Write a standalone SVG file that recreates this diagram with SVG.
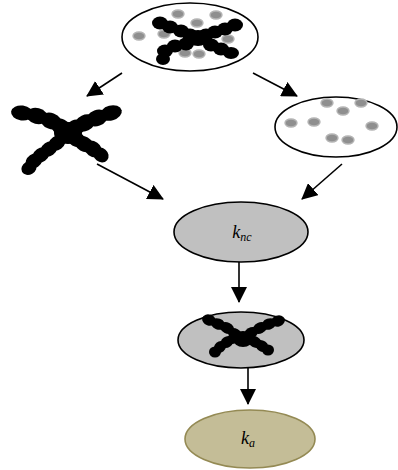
<svg xmlns="http://www.w3.org/2000/svg" width="398" height="470" viewBox="0 0 398 470">
  <style>
    .node { stroke: #000; stroke-width: 1.6; }
    .white { fill: #fff; }
    .grey { fill: #c0c0c0; }
    .tan { fill: #c4bd97; stroke: #948a54; stroke-width: 1.6; }
    .dot { fill: #8f8f8f; stroke: #b4b4b4; stroke-width: 1.4; }
    .bead { fill: #000; }
    .edge { stroke: #000; stroke-width: 1.6; fill: none; marker-end: url(#head); }
    .label { font-family: "Liberation Serif", "Times New Roman", serif; font-style: italic; fill: #000; }
  </style>
  <defs>
    <marker id="head" viewBox="0 0 16 16" refX="15" refY="8" markerWidth="16" markerHeight="16" markerUnits="userSpaceOnUse" orient="auto">
      <path d="M0,0 L16,8 L0,16 Z" fill="#000"/>
    </marker>
  </defs>

  <!-- connectors -->
  <g id="connectors">
    <line class="edge" x1="122" y1="73" x2="87" y2="96"/>
    <line class="edge" x1="253" y1="73" x2="297" y2="96"/>
    <line class="edge" x1="97" y1="164" x2="163" y2="199"/>
    <line class="edge" x1="342" y1="164" x2="302" y2="199"/>
    <line class="edge" x1="239" y1="262" x2="239" y2="302"/>
    <line class="edge" x1="248" y1="368" x2="248" y2="404"/>
  </g>

  <!-- mixture: polymer with free particles -->
  <g id="mixture">
    <ellipse class="node white" cx="190" cy="37" rx="68" ry="34"/>
    <g>
      <ellipse class="dot" cx="178" cy="14" rx="6" ry="4"/>
      <ellipse class="dot" cx="216" cy="15" rx="6" ry="4"/>
      <ellipse class="dot" cx="197" cy="23" rx="6" ry="4"/>
      <ellipse class="dot" cx="139" cy="36" rx="6" ry="4"/>
      <ellipse class="dot" cx="164" cy="34" rx="6" ry="4"/>
      <ellipse class="dot" cx="228" cy="39" rx="6" ry="4"/>
      <ellipse class="dot" cx="185" cy="53" rx="6" ry="4"/>
      <ellipse class="dot" cx="199" cy="54" rx="6" ry="4"/>
    </g>
    <g>
      <ellipse class="bead" cx="160" cy="23" rx="8" ry="6.5"/>
      <ellipse class="bead" cx="170" cy="27" rx="8" ry="6.5"/>
      <ellipse class="bead" cx="181" cy="31" rx="8" ry="6.5"/>
      <ellipse class="bead" cx="190" cy="35" rx="8" ry="6.5"/>
      <ellipse class="bead" cx="235" cy="25" rx="8" ry="6.5"/>
      <ellipse class="bead" cx="225" cy="29" rx="8" ry="6.5"/>
      <ellipse class="bead" cx="215" cy="32" rx="8" ry="6.5"/>
      <ellipse class="bead" cx="206" cy="35" rx="8" ry="6.5"/>
      <ellipse class="bead" cx="198" cy="38" rx="10" ry="8"/>
      <ellipse class="bead" cx="163" cy="59" rx="7" ry="6"/>
      <ellipse class="bead" cx="165" cy="51" rx="8" ry="6.5"/>
      <ellipse class="bead" cx="175" cy="46" rx="8" ry="6.5"/>
      <ellipse class="bead" cx="186" cy="44" rx="8" ry="6.5"/>
      <ellipse class="bead" cx="231" cy="53" rx="8" ry="6"/>
      <ellipse class="bead" cx="221" cy="49" rx="8" ry="6.5"/>
      <ellipse class="bead" cx="211" cy="45" rx="8" ry="6.5"/>
    </g>
  </g>

  <!-- free polymer -->
  <g id="polymer">
    <ellipse class="bead" cx="22" cy="113" rx="11" ry="7.5" transform="rotate(8 22 113)"/>
    <ellipse class="bead" cx="37" cy="116" rx="11" ry="8" transform="rotate(14 37 116)"/>
    <ellipse class="bead" cx="51" cy="121" rx="11" ry="8" transform="rotate(20 51 121)"/>
    <ellipse class="bead" cx="61" cy="127" rx="10" ry="8" transform="rotate(25 61 127)"/>
    <ellipse class="bead" cx="111" cy="113" rx="11" ry="7.5" transform="rotate(-15 111 113)"/>
    <ellipse class="bead" cx="97" cy="118" rx="11" ry="8" transform="rotate(-20 97 118)"/>
    <ellipse class="bead" cx="85" cy="123" rx="11" ry="8" transform="rotate(-25 85 123)"/>
    <ellipse class="bead" cx="75" cy="128" rx="10" ry="8" transform="rotate(-25 75 128)"/>
    <ellipse class="bead" cx="68" cy="133" rx="14" ry="11"/>
    <ellipse class="bead" cx="29" cy="168" rx="8" ry="6.5" transform="rotate(-30 29 168)"/>
    <ellipse class="bead" cx="34" cy="161" rx="9" ry="7" transform="rotate(-35 34 161)"/>
    <ellipse class="bead" cx="41" cy="155" rx="9" ry="7" transform="rotate(-35 41 155)"/>
    <ellipse class="bead" cx="49" cy="149" rx="9" ry="7" transform="rotate(-35 49 149)"/>
    <ellipse class="bead" cx="57" cy="143" rx="9" ry="7" transform="rotate(-35 57 143)"/>
    <ellipse class="bead" cx="101" cy="155" rx="8" ry="7" transform="rotate(40 101 155)"/>
    <ellipse class="bead" cx="93" cy="149" rx="10" ry="7.5" transform="rotate(35 93 149)"/>
    <ellipse class="bead" cx="84" cy="144" rx="10" ry="7.5" transform="rotate(30 84 144)"/>
    <ellipse class="bead" cx="76" cy="139" rx="10" ry="7.5" transform="rotate(30 76 139)"/>
  </g>

  <!-- free particles -->
  <g id="particles">
    <ellipse class="node white" cx="336" cy="127" rx="61" ry="30"/>
    <ellipse class="dot" cx="327" cy="103" rx="6" ry="4"/>
    <ellipse class="dot" cx="361" cy="103" rx="6" ry="4"/>
    <ellipse class="dot" cx="343" cy="111" rx="6" ry="4"/>
    <ellipse class="dot" cx="291" cy="123" rx="6" ry="4"/>
    <ellipse class="dot" cx="314" cy="122" rx="6" ry="4"/>
    <ellipse class="dot" cx="372" cy="126" rx="6" ry="4"/>
    <ellipse class="dot" cx="332" cy="138" rx="6" ry="4"/>
    <ellipse class="dot" cx="348" cy="140" rx="6" ry="4"/>
  </g>

  <!-- k_nc step -->
  <g id="knc">
    <ellipse class="node grey" cx="241" cy="232" rx="67" ry="30"/>
    <text class="label" x="242" y="238" text-anchor="middle" font-size="18">k<tspan font-size="12" dy="3">nc</tspan></text>
  </g>

  <!-- collapsed polymer -->
  <g id="collapsed">
    <ellipse class="node grey" cx="241" cy="340" rx="63" ry="28"/>
    <ellipse class="bead" cx="209" cy="320" rx="7" ry="5.5" transform="rotate(20 209 320)"/>
    <ellipse class="bead" cx="218" cy="324" rx="7.5" ry="5.5" transform="rotate(20 218 324)"/>
    <ellipse class="bead" cx="227" cy="328" rx="7.5" ry="5.5" transform="rotate(25 227 328)"/>
    <ellipse class="bead" cx="235" cy="334" rx="7.5" ry="5.5" transform="rotate(30 235 334)"/>
    <ellipse class="bead" cx="278" cy="321" rx="7" ry="5.5" transform="rotate(-20 278 321)"/>
    <ellipse class="bead" cx="269" cy="324" rx="7.5" ry="5.5" transform="rotate(-20 269 324)"/>
    <ellipse class="bead" cx="260" cy="328" rx="7.5" ry="5.5" transform="rotate(-25 260 328)"/>
    <ellipse class="bead" cx="251" cy="333" rx="7.5" ry="5.5" transform="rotate(-30 251 333)"/>
    <ellipse class="bead" cx="243" cy="339" rx="10" ry="8"/>
    <ellipse class="bead" cx="215" cy="352" rx="6" ry="5.5"/>
    <ellipse class="bead" cx="220" cy="347" rx="6.5" ry="5.5" transform="rotate(-40 220 347)"/>
    <ellipse class="bead" cx="227" cy="342" rx="7" ry="5.5" transform="rotate(-35 227 342)"/>
    <ellipse class="bead" cx="234" cy="338" rx="7" ry="5.5" transform="rotate(-30 234 338)"/>
    <ellipse class="bead" cx="268" cy="350" rx="6" ry="5.5"/>
    <ellipse class="bead" cx="262" cy="346" rx="7" ry="5.5" transform="rotate(35 262 346)"/>
    <ellipse class="bead" cx="255" cy="342" rx="7" ry="5.5" transform="rotate(30 255 342)"/>
  </g>

  <!-- k_a step -->
  <g id="ka">
    <ellipse class="tan" cx="250" cy="439" rx="65" ry="29"/>
    <text class="label" x="248" y="444" text-anchor="middle" font-size="18">k<tspan font-size="12" dy="3">a</tspan></text>
  </g>
</svg>
